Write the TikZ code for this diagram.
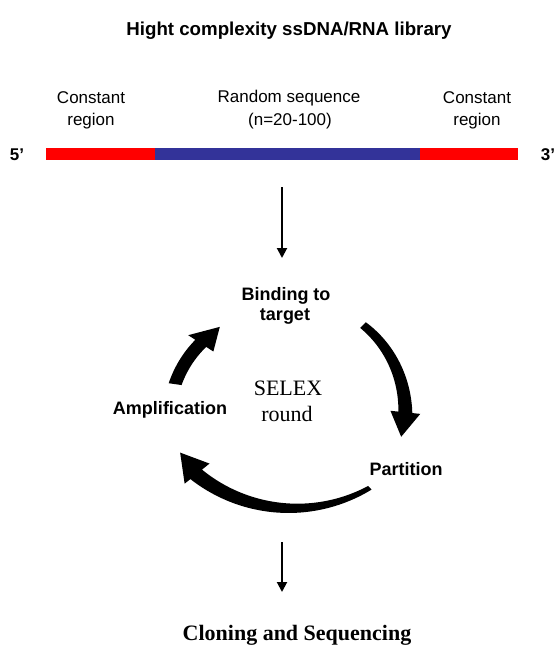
\documentclass[tikz,border=0pt]{standalone}
\usepackage{fontspec}
\setmainfont{Liberation Serif}
\setsansfont{Liberation Sans}
\usetikzlibrary{arrows.meta}
\definecolor{seqred}{RGB}{255,0,0}
\definecolor{seqblue}{RGB}{51,51,153}
\begin{document}
\begin{tikzpicture}[x=1pt,y=1pt,
  lab/.style={font=\sffamily\fontsize{17}{17}\selectfont, anchor=base, inner sep=0pt},
  blab/.style={font=\sffamily\bfseries\fontsize{18}{18}\selectfont, anchor=base, inner sep=0pt},
  slab/.style={font=\rmfamily\fontsize{22}{22}\selectfont, anchor=base, inner sep=0pt},
  seg/.style={inner sep=0pt, anchor=north west, minimum height=12pt},
  flow/.style={line width=2pt, -{Triangle[width=10pt,length=10pt]}},
  cyc/.style={fill=black}]
\useasboundingbox (0,0) rectangle (554,-646);

% title
\node[blab, font=\sffamily\bfseries\fontsize{18.7}{18.7}\selectfont] (title) at (289,-35) {Hight complexity ssDNA/RNA library};

% library bar
\node[seg, fill=seqred, minimum width=109pt] (c5) at (46,-148) {};
\node[seg, fill=seqblue, minimum width=265pt] (rnd) at (155,-148) {};
\node[seg, fill=seqred, minimum width=98pt] (c3) at (420,-148) {};

\node[lab] (cl1) at (91,-103) {Constant};
\node[lab] (cl2) at (91,-125) {region};
\node[lab] (rs1) at (289,-102) {Random sequence};
\node[lab] (rs2) at (290,-125) {(n=20-100)};
\node[lab] (cr1) at (477,-103) {Constant};
\node[lab] (cr2) at (477,-125) {region};
\node[lab, font=\sffamily\bfseries\fontsize{17}{17}\selectfont] (p5) at (17,-160) {5'};
\node[lab, font=\sffamily\bfseries\fontsize{17}{17}\selectfont] (p3) at (548,-160) {3'};

% arrow to cycle
\coordinate (a1s) at (282,-187);
\coordinate (a1e) at (282,-258);
\draw[flow] (a1s) -- (a1e);

% cycle labels
\node[blab] (bind1) at (286,-300) {Binding to};
\node[blab] (bind2) at (285,-320) {target};
\node[slab] (sel1) at (288,-395) {SELEX};
\node[slab] (sel2) at (287,-421) {round};
\node[blab] (amp) at (170,-414) {Amplification};
\node[blab] (part) at (406,-475) {Partition};

% cycle arrows
\begin{scope}[shift={(288,-400)}]
  % binding -> partition
  \fill[cyc] plot[domain=45:-6,samples=40] (\x:{106+12*(45-\x)/51 + (4+3*(45-\x)/51)})
     -- (-6:133) -- (-18:119) -- (-6:103)
     -- plot[domain=-6:45,samples=40] (\x:{106+12*(45-\x)/51 - (4+3*(45-\x)/51)}) -- cycle;
  % partition -> amplification
  \fill[cyc] plot[domain=-47:-141,samples=50] (\x:{108+0.005*(\x+96)^2 + (2.5+5*(-47-\x)/94)})
     -- (-141:133) -- (-154:120) -- (-141:101)
     -- plot[domain=-141:-47,samples=50] (\x:{108+0.005*(\x+96)^2 - (2.5+5*(-47-\x)/94)}) -- cycle;
  % amplification -> binding
  \fill[cyc] plot[domain=172:147,samples=30] (\x:{114-10*(172-\x)/25 + 6.5})
     -- (147:119) -- (133:100) -- (147:89)
     -- plot[domain=147:172,samples=30] (\x:{114-10*(172-\x)/25 - 6.5}) -- cycle;
\end{scope}

% arrow to cloning
\coordinate (a2s) at (282,-542);
\coordinate (a2e) at (282,-592);
\draw[flow] (a2s) -- (a2e);

\node[slab, font=\rmfamily\bfseries\fontsize{22}{22}\selectfont] (clone) at (297,-640) {Cloning and Sequencing};
\end{tikzpicture}
\end{document}
